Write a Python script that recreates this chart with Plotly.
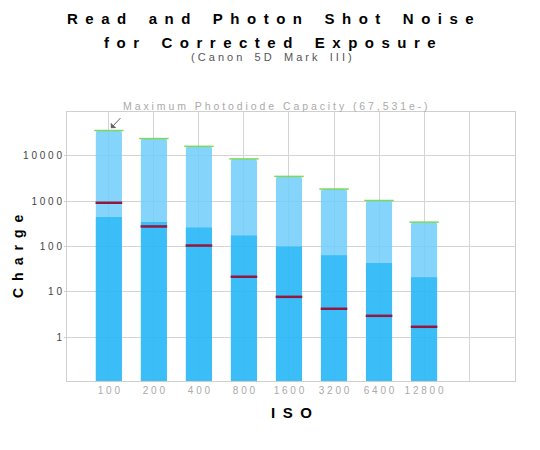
import math
import plotly.graph_objects as go

iso = ["100", "200", "400", "800", "1600", "3200", "6400", "12800"]
capacity = [35700, 23700, 16000, 8460, 3490, 1840, 1030, 344]
shot_noise = [444, 344, 261, 174, 100, 64, 43.5, 21]
read_noise = [917, 276, 105, 21.6, 7.8, 4.26, 2.98, 1.71]
y_ticks = [1, 10, 100, 1000, 10000]

NB = "\u00a0"


def spaced(s, sep=NB, word=NB * 3):
    # fake letter-spacing, plotly has none
    return word.join(sep.join(w) for w in s.split(" "))


xs = list(range(len(iso)))
BAR_W = 0.58

fig = go.Figure()

fig.add_trace(go.Bar(
    x=xs, y=capacity, width=BAR_W,
    marker=dict(color="rgba(110,205,250,0.85)", line_width=0, cornerradius=3),
    hoverinfo="skip",
))
fig.add_trace(go.Bar(
    x=xs, y=shot_noise, width=BAR_W,
    marker=dict(color="rgba(0,170,245,0.55)", line_width=0),
    hoverinfo="skip",
))
# green cap at the top of each bar
fig.add_trace(go.Scatter(
    x=xs, y=capacity, mode="markers",
    marker=dict(symbol="line-ew", size=21, line=dict(color="#7ed957", width=1.5)),
    hoverinfo="skip",
))
# read noise level
fig.add_trace(go.Scatter(
    x=xs, y=read_noise, mode="markers",
    marker=dict(symbol="line-ew", size=19, line=dict(color="#93173e", width=2.5)),
    hoverinfo="skip",
))

title_font = dict(family="Liberation Sans", size=15, color="#000000")
sep_t = "\u2002"

# page body has an 8px margin, so the figure is shrunk by that amount
fig.update_layout(
    width=532, height=442,
    margin=dict(l=59, r=25, t=104, b=69),
    paper_bgcolor="white", plot_bgcolor="white",
    barmode="overlay",
    showlegend=False,
    font=dict(family="Liberation Sans", size=10, color="#999999"),
    xaxis=dict(
        range=[-0.93, 9.02],
        tickvals=list(range(len(iso) + 1)),
        ticktext=[spaced(t) for t in iso] + [""],
        tickfont=dict(size=10, color="#aaaaaa"),
        showgrid=True, gridcolor="#d4d4d4", gridwidth=1,
        showline=True, linecolor="#cfcfcf", mirror=True,
        zeroline=False, ticks="",
    ),
    yaxis=dict(
        type="log",
        range=[-0.96, 4.96],
        tickvals=y_ticks,
        ticktext=[spaced(str(v)) for v in y_ticks],
        tickfont=dict(size=10, color="#444444"),
        showgrid=True, gridcolor="#d4d4d4", gridwidth=1,
        showline=True, linecolor="#cfcfcf", mirror=True,
        ticks="outside", ticklen=2, tickcolor="#cfcfcf",
        zeroline=False,
    ),
)


# plot area spans 112..381 px vertically, 67..515 horizontally (page coords)
def py(pix):
    return (381 - pix) / 269


def px_(pix):
    return (pix - 67) / 448


annots = [
    dict(text="<b>" + spaced("Read and Photon Shot Noise", sep_t, sep_t * 3) + "</b>",
         x=px_(270), y=py(18), font=title_font),
    dict(text="<b>" + spaced("for Corrected Exposure", sep_t, sep_t * 3) + "</b>",
         x=px_(270), y=py(42), font=title_font),
    dict(text=spaced("(Canon 5D Mark III)", NB, NB * 4),
         x=px_(271), y=py(57), font=dict(size=11, color="#555555")),
    dict(text=spaced("Maximum Photodiode Capacity (67,531e-)"),
         x=px_(275), y=py(106), font=dict(size=10.5, color="#aaaaaa")),
    dict(text="<b>" + spaced("Charge", sep_t, sep_t * 3) + "</b>",
         x=px_(18), y=py(257), textangle=-90,
         font=dict(family="Liberation Sans", size=14, color="#000000")),
    dict(text="<b>" + spaced("ISO", sep_t, sep_t * 3) + "</b>",
         x=px_(291), y=py(412), font=title_font),
]
for a in annots:
    fig.add_annotation(xref="paper", yref="paper", showarrow=False,
                       xanchor="center", yanchor="middle", **a)

fig.add_annotation(
    x=0, y=math.log10(capacity[0]), xref="x", yref="y", text="",
    showarrow=True, arrowhead=1, arrowsize=1.3, arrowwidth=1,
    arrowcolor="#666666", ax=13, ay=-14, standoff=3,
)

fig.write_html("out.html")
